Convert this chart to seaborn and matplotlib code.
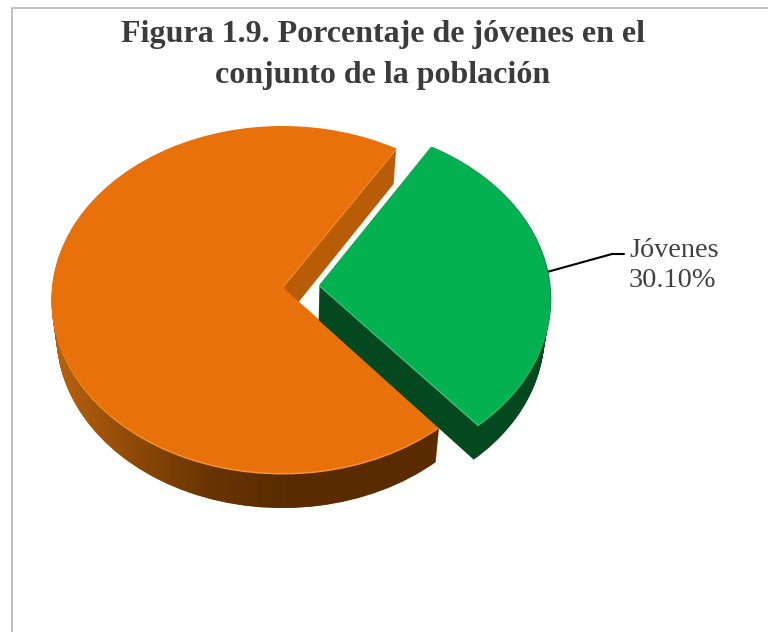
import numpy as np
import matplotlib
matplotlib.use("Agg")
import matplotlib.pyplot as plt
import seaborn as sns
from matplotlib.transforms import Transform, Affine2D

# datos del grafico
categorias = ["Jóvenes", "Resto"]
porcentajes = [30.10, 69.90]
separacion = [0.16, 0.0]
titulo = "Figura 1.9. Porcentaje de jóvenes en el\nconjunto de la población"

ANCHO, ALTO = 768, 632
GIRO = -50.0
PROFUNDIDAD = 35
CX = 282.5

# colores: verde y naranja
caras = ["#03B150", "#E8710B"]
paredes = ["#03481F", "#B85C08"]
brillos = ["#3CC878", "#F8952E"]


class Perspectiva(Transform):
    """Pasa el circulo unidad a pixeles con una ligera perspectiva"""
    input_dims = 2
    output_dims = 2
    is_separable = False
    has_inverse = False

    def __init__(self, cx=CX, cy=299.5, a=230.5, b=173.5, c=12.5, k=0.072):
        super().__init__()
        self.cx, self.cy, self.a, self.b, self.c, self.k = cx, cy, a, b, c, k

    def transform_non_affine(self, values):
        v = np.asarray(values, dtype=float)
        w = 1 + self.k * v[:, 1]
        x = self.cx + self.a * v[:, 0] / w
        y = self.cy - (self.b * v[:, 1] + self.c) / w
        return np.column_stack([x, y])


sns.set_theme(style="white")
plt.rcParams["font.family"] = ["Liberation Serif", "DejaVu Serif"]

fig = plt.figure(figsize=(ANCHO / 100, ALTO / 100), dpi=100)
ax = fig.add_axes([0, 0, 1, 1])
persp = Perspectiva()


def capa(colores, dx=0.0, dy=0.0, orden=(1.0, 2.0)):
    # las capas mas bajas se estrechan un poco hacia el centro
    esc = 1 - 0.022 * max(dy, 0) / PROFUNDIDAD
    ws, _ = ax.pie(porcentajes, explode=separacion, startangle=GIRO,
                   colors=colores, labeldistance=None,
                   wedgeprops={"linewidth": 0})
    mover = Affine2D().translate(-CX, 0).scale(esc, 1).translate(CX + dx, dy)
    for w, z in zip(ws, orden):
        w.set_transform(persp + mover + ax.transData)
        w.set_zorder(z)
    return ws


# degradado de la pared exterior naranja
degradado = sns.blend_palette(["#B8620F", "#8F4A08", "#683403", "#5A2C01", "#5A2B00", "#5A2B00"],
                              as_cmap=True)

# paredes laterales, de abajo hacia arriba
for d in range(PROFUNDIDAD, 0, -1):
    ws = capa(paredes, dy=d, orden=(2.0, 1.0))
    img = ax.imshow(np.linspace(0, 1, 256).reshape(1, -1), cmap=degradado, aspect="auto",
                    extent=(55, 440, 520, 305), zorder=1.2, interpolation="bilinear")
    img.set_clip_path(ws[1])

# cara superior con un borde claro abajo
capa(["#1F7F48", "none"], dx=1.0, dy=0.0, orden=(2.3, 1.3))
capa(brillos, dy=1.5, orden=(2.4, 1.4))
capa(caras, orden=(2.5, 1.5))

# la tarta cambia los limites, se vuelven a fijar en pixeles
ax.set_aspect("auto")
ax.set_xlim(0, ANCHO)
ax.set_ylim(ALTO, 0)
ax.axis("off")

# marco
ax.plot([12, 12, ANCHO], [ALTO, 8, 8], color="#B4B4B4", lw=1.2, zorder=0.5, clip_on=False)

ax.text(383, 55, titulo, ha="center", va="center", fontsize=23, fontweight="bold",
        color="#3B3B3B", linespacing=1.56)

# etiqueta con su linea guia
ax.plot([547, 612, 624], [272, 254, 254], color="black", lw=1.5, zorder=1)
ax.text(629, 265.5, f"{categorias[0]}\n{porcentajes[0]:.2f}%", ha="left", va="center",
        fontsize=20.3, color="#404040", linespacing=1.28)

fig.savefig("out.png", dpi=100, facecolor="white")
